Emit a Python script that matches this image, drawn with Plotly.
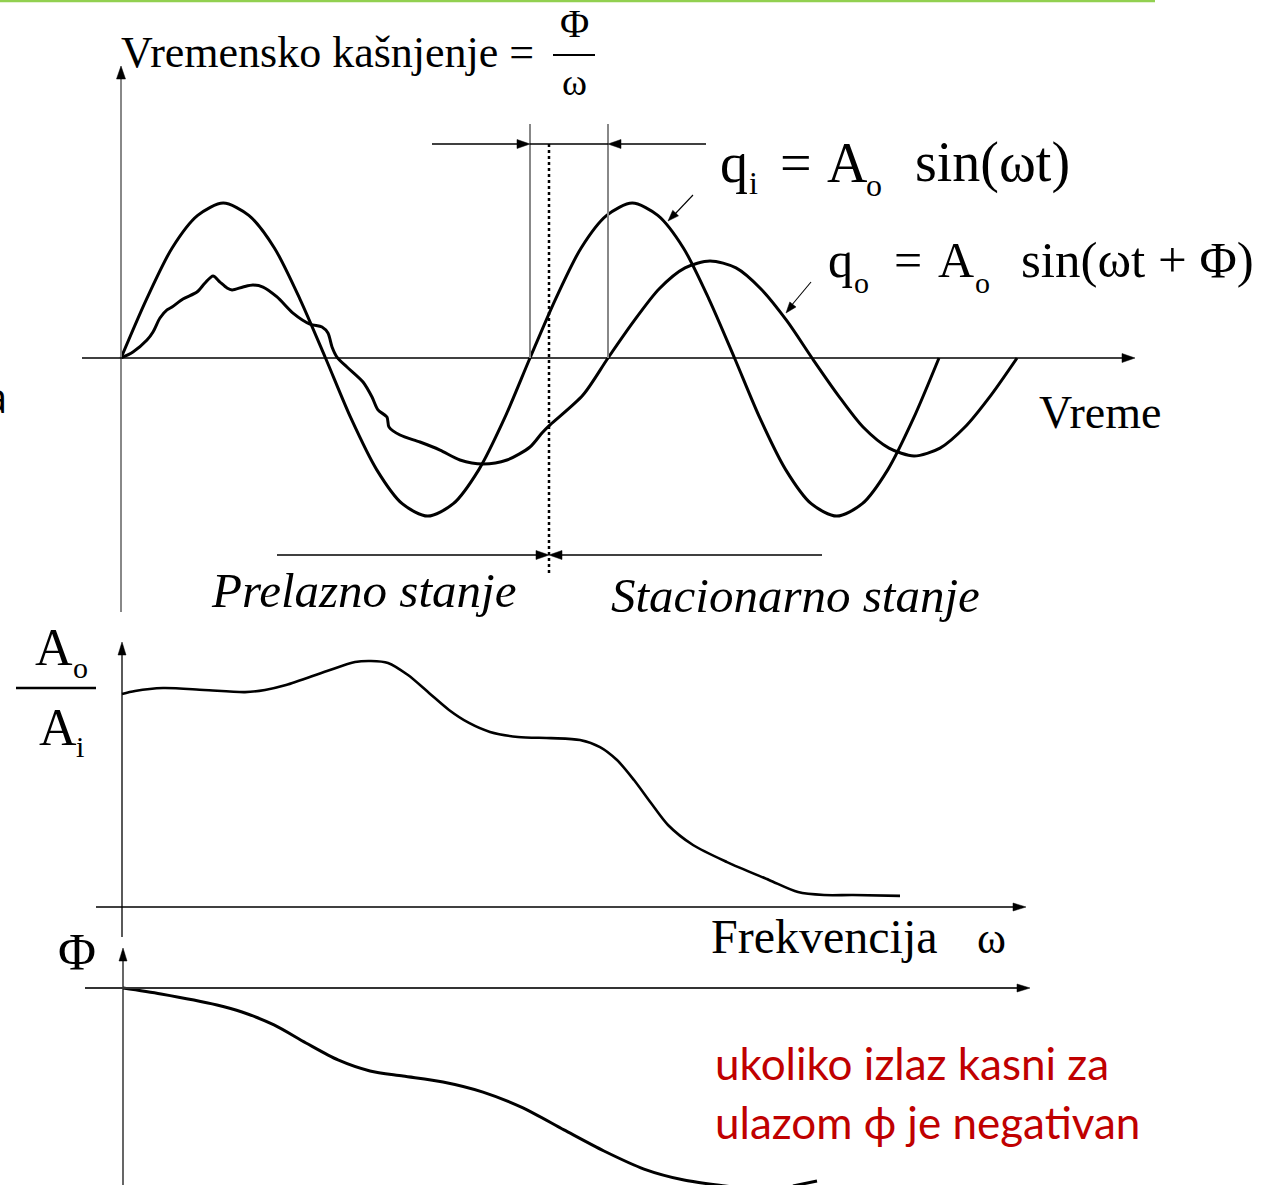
import math
import plotly.graph_objects as go

# ---- data ----
# top panel: time t (arbitrary units), q positive up
t_qi = [0, 0.25, 0.5, 0.75, 1.0, 1.25, 1.5, 1.75, 2.0, 2.25, 2.5, 2.75, 3.0, 3.25, 3.5, 3.75,
        4.0, 4.25, 4.5, 4.75, 5.0, 5.25, 5.5, 5.75, 6.0, 6.25, 6.5, 6.75, 7.0, 7.25, 7.5, 7.75, 8.0]
q_in = [0, 0.38, 0.71, 0.92, 1.0, 0.92, 0.71, 0.38, 0, -0.39, -0.72, -0.94, -1.02, -0.94, -0.72, -0.39,
        0, 0.38, 0.71, 0.92, 1.0, 0.92, 0.71, 0.38, 0, -0.39, -0.72, -0.94, -1.02, -0.94, -0.72, -0.39, 0]

t_qo = [0, 0.117, 0.254, 0.313, 0.381, 0.45, 0.499, 0.606, 0.743, 0.822, 0.9, 0.968, 1.037, 1.086,
        1.193, 1.291, 1.389, 1.526, 1.682, 1.848, 1.966, 2.024, 2.064, 2.112, 2.21, 2.367, 2.455,
        2.513, 2.601, 2.621, 2.729, 2.924, 3.12, 3.315, 3.54, 3.775, 4.0, 4.117, 4.196,
        4.518, 4.763, 5.017, 5.262, 5.516, 5.76, 6.015, 6.259, 6.513, 6.758, 7.012, 7.257,
        7.511, 7.756, 8.01, 8.254, 8.509, 8.763]
q_out = [0, 0.039, 0.116, 0.168, 0.258, 0.31, 0.329, 0.381, 0.426, 0.484, 0.529, 0.49, 0.452, 0.439,
         0.458, 0.471, 0.458, 0.394, 0.29, 0.219, 0.2, 0.161, 0.071, 0.006, -0.058, -0.155, -0.252,
         -0.335, -0.381, -0.445, -0.497, -0.542, -0.594, -0.658, -0.684, -0.658, -0.574, -0.484, -0.432,
         -0.239, 0, 0.239, 0.445, 0.581, 0.626, 0.581, 0.445, 0.239, 0, -0.239, -0.445,
         -0.581, -0.632, -0.581, -0.445, -0.239, 0]

# middle panel: amplitude ratio Ao/Ai vs frequency
w_amp = [0, 0.13, 0.41, 0.82, 1.23, 1.43, 1.64, 2.05, 2.33, 2.49, 2.66, 2.86, 3.07, 3.27, 3.47,
         3.68, 3.96, 4.29, 4.58, 4.78, 4.95, 5.12, 5.29, 5.46, 5.71, 6.05, 6.47, 6.76, 7.02, 7.31, 7.78]
ratio = [1.0, 1.014, 1.028, 1.019, 1.009, 1.019, 1.042, 1.108, 1.15, 1.155, 1.146, 1.089, 1.005, 0.925,
         0.864, 0.822, 0.798, 0.793, 0.784, 0.751, 0.69, 0.596, 0.488, 0.385, 0.291, 0.211, 0.127,
         0.07, 0.056, 0.056, 0.052]

# bottom panel: phase (deg) vs frequency
w_phase = [0, 0.38, 0.94, 1.19, 1.51, 1.83, 2.15, 2.47, 2.80, 3.20, 3.60, 4.00, 4.41, 4.81,
           5.21, 5.61, 6.02, 6.37]
phase = [0, -2.7, -7.7, -10.9, -16.8, -25.0, -32.7, -37.7, -40.0, -42.7, -47.3, -54.5, -64.5,
         -74.1, -82.3, -87.3, -90.0, -91.8]
w_tail = [6.70, 6.94]
phase_tail = [-90.0, -87.7]

# ---- layout helpers ----
W, H = 1262, 1185
SERIF = "Liberation Serif, Times New Roman, serif"
RED_FONT = "Lato, Open Sans, sans-serif"


def axis_range(origin_px, px_per_unit, total, flip=False):
    if flip:  # screen y grows downward, values grow upward
        return [(origin_px - total) / px_per_unit, origin_px / px_per_unit]
    return [-origin_px / px_per_unit, (total - origin_px) / px_per_unit]


fig = go.Figure()

line_style = dict(color="black", width=3, shape="spline", smoothing=0.8)
fig.add_trace(go.Scatter(x=t_qi, y=q_in, mode="lines", line=line_style, xaxis="x", yaxis="y"))
fig.add_trace(go.Scatter(x=t_qo, y=q_out, mode="lines", line=line_style, xaxis="x", yaxis="y"))
fig.add_trace(go.Scatter(x=w_amp, y=ratio, mode="lines",
                         line=dict(color="black", width=2.6, shape="spline", smoothing=0.8),
                         xaxis="x2", yaxis="y2"))
fig.add_trace(go.Scatter(x=w_phase, y=phase, mode="lines",
                         line=dict(color="black", width=3, shape="spline", smoothing=0.8),
                         xaxis="x3", yaxis="y3"))
fig.add_trace(go.Scatter(x=w_tail, y=phase_tail, mode="lines",
                         line=dict(color="black", width=3), xaxis="x3", yaxis="y3"))

shapes = []


def seg(x0, y0, x1, y1, color="black", width=1.5, dash=None):
    d = dict(type="line", xref="x4", yref="y4", x0=x0, y0=y0, x1=x1, y1=y1,
             line=dict(color=color, width=width))
    if dash:
        d["line"]["dash"] = dash
    shapes.append(d)


def head(tip, tail, length=13, half=4.5):
    dx, dy = tip[0] - tail[0], tip[1] - tail[1]
    n = math.hypot(dx, dy)
    ux, uy = dx / n, dy / n
    bx, by = tip[0] - ux * length, tip[1] - uy * length
    p1 = (bx - uy * half, by + ux * half)
    p2 = (bx + uy * half, by - ux * half)
    shapes.append(dict(type="path", xref="x4", yref="y4",
                       path=f"M{tip[0]},{tip[1]} L{p1[0]},{p1[1]} L{p2[0]},{p2[1]} Z",
                       fillcolor="black", line=dict(color="black", width=0.5)))


# green rule at the top of the slide
seg(0, 1, 1155, 1, color="#92D050", width=2.5)

# top panel axes
seg(121, 612, 121, 78, color="#888888", width=2)
head((121, 66), (121, 100))
seg(82, 358, 1124, 358, width=1.6)
head((1135, 358), (1100, 358))
# phase-shift markers
seg(530, 124, 530, 358, color="#888888", width=2)
seg(608, 124, 608, 358, color="#888888", width=2)
seg(432, 144, 520, 144, width=1.4)
head((530, 144), (432, 144))
seg(530, 144, 608, 144, width=1.4)
seg(618, 144, 706, 144, width=1.4)
head((608, 144), (706, 144))
seg(549, 144, 549, 573, width=2.5, dash="dot")
# transient / steady-state spans
seg(277, 555, 540, 555, width=1.5)
head((549, 555), (277, 555))
seg(558, 555, 822, 555, width=1.5)
head((549, 555), (822, 555))
# pointers to the curves
seg(693, 195, 675, 214, width=1.1)
head((668, 221), (693, 195), length=11, half=4)
seg(811, 282, 791, 306, width=1.1)
head((786, 313), (811, 282), length=11, half=4)
# fraction bars
seg(553, 55, 595, 55, width=2)
seg(16, 688, 96, 688, width=2.5)

# middle panel axes
seg(122, 937, 122, 652, width=1.3)
head((122, 642), (122, 700), length=13, half=4)
seg(96, 907, 1015, 907, width=1.3)
head((1026, 907), (960, 907), length=13, half=4)

# bottom panel axes
seg(123, 1185, 123, 958, width=1.2)
head((123, 948), (123, 1000), length=13, half=4)
seg(85, 988, 1019, 988, width=2, color="#333333")
head((1030, 988), (960, 988), length=13, half=4)

annotations = []


def label(text, x, baseline, size, anchor="left", family=SERIF, color="black", italic=False):
    annotations.append(dict(
        text=text, x=x, y=baseline - 0.34 * size, xref="x4", yref="y4",
        xanchor=anchor, yanchor="middle", showarrow=False, borderpad=0,
        font=dict(family=family, size=size, color=color, style="italic" if italic else "normal")))


label("Vremensko kašnjenje =", 120, 67, 44)
label("Φ", 574, 37, 40, anchor="center")
label("ω", 574, 95, 38, anchor="center")

label("q", 719, 182, 56)
label("i", 748, 194, 32)
label("=", 779, 182, 56)
label("A", 826, 182, 56)
label("o", 865, 196, 32)
label("sin(ωt)", 914, 182, 56)

label("q", 827, 277, 50)
label("o", 853, 293, 30)
label("=", 893, 277, 50)
label("A", 937, 277, 50)
label("o", 974, 293, 30)
label("sin(ωt + Φ)", 1020, 277, 51)

label("Vreme", 1038, 428, 46)
label("Prelazno stanje", 210, 607, 49, italic=True)
label("Stacionarno stanje", 610, 612, 49, italic=True)

label("A", 34, 665, 52)
label("o", 72, 678, 30)
label("A", 38, 745, 52)
label("i", 75, 757, 30)

label("Frekvencija", 710, 953, 48)
label("ω", 976, 953, 44)
label("Φ", 77, 970, 52, anchor="center")

label("ukoliko izlaz kasni za", 714, 1078, 44, family=RED_FONT, color="#C00000")
label("ulazom ϕ je negativan", 714, 1137, 44, family=RED_FONT, color="#C00000")

# cut-off letter at the left edge of the slide
label("a", 8, 411, 42, anchor="right", family="Open Sans, sans-serif")

hidden = dict(visible=False, fixedrange=True, domain=[0, 1])
fig.update_layout(
    width=W, height=H,
    margin=dict(l=0, r=0, t=0, b=0),
    paper_bgcolor="white", plot_bgcolor="rgba(0,0,0,0)",
    showlegend=False,
    xaxis=dict(hidden, range=axis_range(121, 102.25, W), anchor="y"),
    yaxis=dict(hidden, range=axis_range(358, 155, H, flip=True), anchor="x"),
    xaxis2=dict(hidden, range=axis_range(122, 100, W), anchor="y2"),
    yaxis2=dict(hidden, range=axis_range(907, 213, H, flip=True), anchor="x2"),
    xaxis3=dict(hidden, range=axis_range(123, 100, W), anchor="y3"),
    yaxis3=dict(hidden, range=axis_range(988, 2.2, H, flip=True), anchor="x3"),
    xaxis4=dict(hidden, range=[0, W], anchor="y4"),
    yaxis4=dict(hidden, range=[H, 0], anchor="x4"),
    shapes=shapes,
    annotations=annotations,
)

# the page's default body margin would push the figure 8px off; remove it
fig.write_html("out.html", config={"displayModeBar": False},
               post_script="document.body.style.margin = '0';")
